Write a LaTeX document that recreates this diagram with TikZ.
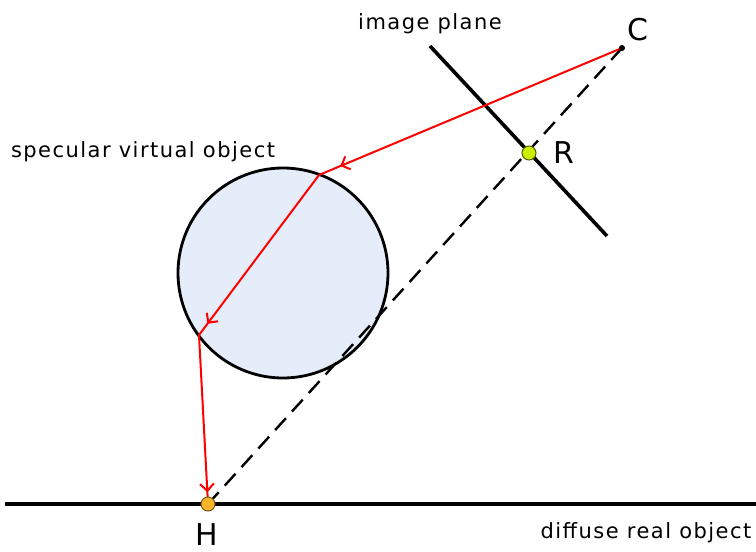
\documentclass[tikz,border=0pt]{standalone}
\usepackage{fontspec}
\setmainfont{DejaVu Sans}
\usetikzlibrary{arrows.meta,decorations.markings}
\definecolor{sphere}{HTML}{E5EDFB}
\definecolor{rdot}{HTML}{CCEE00}
\definecolor{hdot}{HTML}{F7B52C}
\tikzset{
  ray/.style={red, line width=2pt, postaction={decorate},
    decoration={markings, mark=at position 0.93 with {\arrow{Straight Barb[length=7pt,width=14pt]}}}},
  lbl/.style={font=\fontsize{21}{25}\selectfont\addfontfeature{LetterSpace=7}, anchor=base},
  pt/.style={font=\fontsize{30}{35}\selectfont, anchor=base, inner sep=0pt}
}
\begin{document}
\begin{tikzpicture}[x=1pt, y=-1pt]
  \useasboundingbox (0,0) rectangle (756,552);
  \coordinate (C) at (622,48);
  \coordinate (H) at (208,504);
  \coordinate (R) at (529,153);
  \coordinate (P1) at (319,175);
  \coordinate (P2) at (199,335);
  \draw[fill=sphere, line width=2.8pt] (283,273) circle[radius=105];
  \draw[line width=3.6pt] (430,46) -- (607,236);
  \draw[line width=3.6pt] (5,504) -- (756,504);
  \draw[line width=2.4pt, dash pattern=on 16pt off 9pt] (C) -- (H);
  \draw[ray] (C) -- (P1);
  \draw[ray] (P1) -- (P2);
  \draw[ray] (P2) -- (H);
  \fill (C) circle[radius=3];
  \draw[fill=rdot, draw=black!60!rdot, line width=1pt] (R) circle[radius=7];
  \draw[fill=hdot, draw=black!50!hdot, line width=1pt] (H) circle[radius=7];
  \node[pt] (Clabel) at (638,40) {C};
  \node[pt] (Rlabel) at (564,163) {R};
  \node[pt] (Hlabel) at (207,545) {H};
  \node[lbl] (plane) at (430,29) {image plane};
  \node[lbl] (virtual) at (143,157) {specular virtual object};
  \node[lbl] (real) at (646,538) {diffuse real object};
\end{tikzpicture}
\end{document}
